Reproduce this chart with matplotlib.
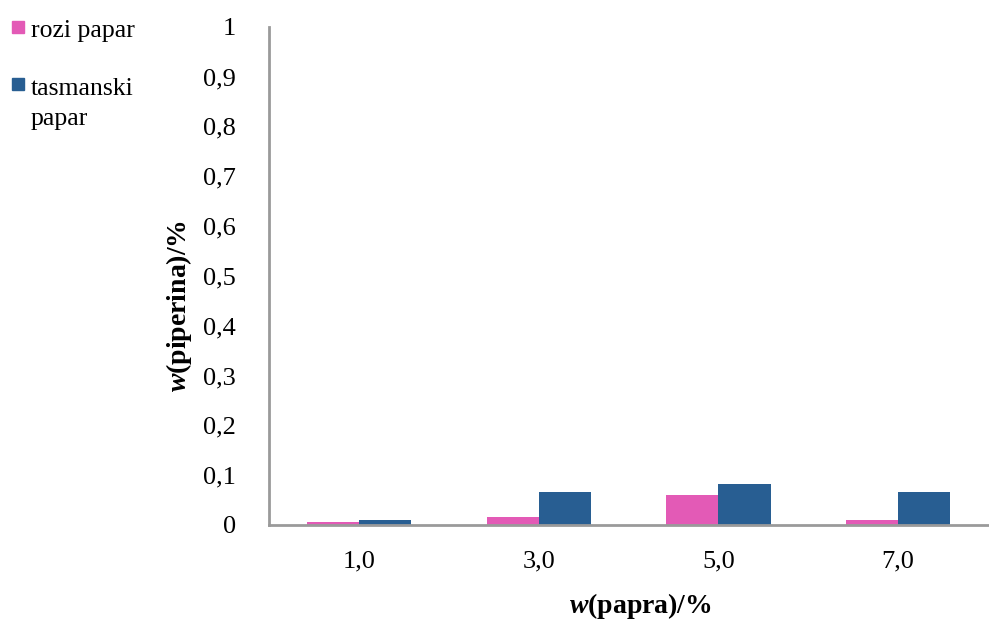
import matplotlib.pyplot as plt
import numpy as np
from matplotlib.patches import Rectangle

categories = ["1,0", "3,0", "5,0", "7,0"]
rozi = [0.006, 0.016, 0.060, 0.010]
tasmanski = [0.010, 0.066, 0.082, 0.066]
series_names = ["rozi papar", "tasmanski\npapar"]
yticks = [0, 0.1, 0.2, 0.3, 0.4, 0.5, 0.6, 0.7, 0.8, 0.9, 1.0]

pink = "#E35AB6"
blue = "#285E92"

plt.rcParams["font.family"] = ["Liberation Serif", "DejaVu Serif"]
plt.rcParams["mathtext.fontset"] = "custom"
plt.rcParams["mathtext.it"] = "Liberation Serif:italic:bold"
plt.rcParams["mathtext.rm"] = "Liberation Serif:bold"

fig = plt.figure(figsize=(9.89, 6.22), dpi=100)
ax = fig.add_axes([0.272, 0.156, 0.727, 0.801])

x = np.arange(len(categories))
w = 0.29
ax.bar(x - w / 2, rozi, w, color=pink)
ax.bar(x + w / 2, tasmanski, w, color=blue)

ax.set_xlim(-0.5, len(categories) - 0.5)
ax.set_ylim(0, 1)
ax.set_yticks(yticks)
ax.set_yticklabels([("%g" % t).replace(".", ",") for t in yticks])
ax.set_xticks(x)
ax.set_xticklabels(categories)
ax.tick_params(axis="both", length=0, labelsize=19)
ax.tick_params(axis="y", pad=24)
ax.tick_params(axis="x", pad=18)

for s in ["top", "right"]:
    ax.spines[s].set_visible(False)
for s in ["left", "bottom"]:
    ax.spines[s].set_color("#9a9a9a")
    ax.spines[s].set_linewidth(2)

ax.set_xlabel(r"$\it{w}$(papra)/%", fontsize=20, fontweight="bold")
ax.set_ylabel(r"$\it{w}$(piperina)/%", fontsize=20, fontweight="bold")
ax.xaxis.set_label_coords(0.516, -0.133)
ax.yaxis.set_label_coords(-0.104, 0.44)

# legend drawn at top-left of the figure
H = 622
W = 989
for col, name, ytop, ttop in [(pink, series_names[0], 21, 20), (blue, series_names[1], 78, 78)]:
    fig.patches.append(Rectangle((12 / W, 1 - (ytop + 12) / H), 12 / W, 12 / H,
                                 transform=fig.transFigure, color=col))
    fig.text(31 / W, 1 - ttop / H, name, fontsize=18.5, va="top", ha="left",
             linespacing=1.45)

fig.savefig("out.png", dpi=100)
